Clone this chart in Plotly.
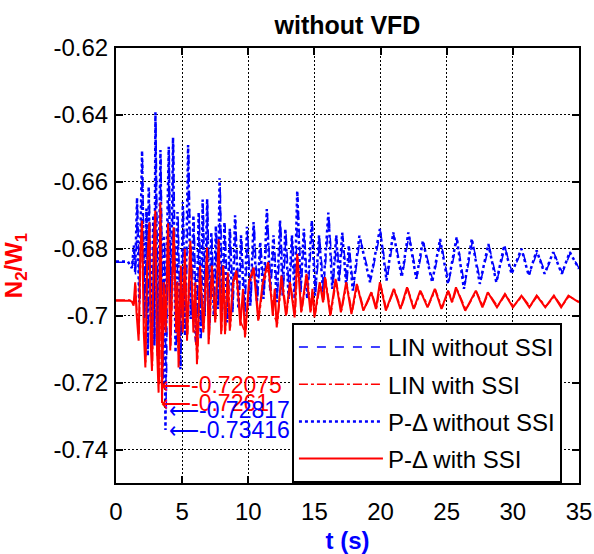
import plotly.graph_objects as go

# ---------------- data ----------------
series_names = ["LIN without SSI", "LIN with SSI", "P-\u0394 without SSI", "P-\u0394 with SSI"]

lin_nossi = [
    (0.00, -0.6840), (0.95, -0.6840), (1.22, -0.6855), (1.38, -0.6800), (1.48, -0.6880), (1.62, -0.6660), (1.80, -0.6950), (2.00, -0.6530), (2.18, -0.7000), (2.33, -0.6700),
    (2.43, -0.7100), (2.52, -0.6630), (2.68, -0.7040), (2.85, -0.6720), (2.93, -0.7080), (3.02, -0.6420), (3.20, -0.7100), (3.40, -0.6530), (3.58, -0.7180), (3.68, -0.6780),
    (3.80, -0.72817), (3.90, -0.6800), (4.03, -0.6520), (4.16, -0.7050), (4.35, -0.6490), (4.55, -0.7100), (4.70, -0.6710), (4.90, -0.7150), (5.10, -0.6680), (5.27, -0.7050),
    (5.50, -0.6510), (5.70, -0.7000), (5.90, -0.6720), (6.10, -0.7070), (6.30, -0.6700), (6.45, -0.7060), (6.60, -0.6670), (6.75, -0.6990), (6.93, -0.6665), (7.10, -0.7020),
    (7.25, -0.6760), (7.43, -0.6990), (7.60, -0.6745), (7.75, -0.6970), (7.88, -0.6610), (8.05, -0.6980), (8.25, -0.6730), (8.45, -0.7010), (8.65, -0.6750), (8.85, -0.6980),
    (9.05, -0.6715), (9.30, -0.6970), (9.50, -0.6770), (9.75, -0.6990), (9.95, -0.6745), (10.20, -0.6960), (10.45, -0.6730), (10.70, -0.6950), (10.95, -0.6790), (11.20, -0.6940),
    (11.45, -0.6695), (11.70, -0.6920), (11.95, -0.6770), (12.20, -0.6950), (12.45, -0.6725), (12.65, -0.6930), (12.85, -0.6750), (13.10, -0.6940), (13.35, -0.6770), (13.55, -0.6940),
    (13.75, -0.6645), (14.00, -0.6920), (14.25, -0.6750), (14.50, -0.6940), (14.85, -0.6725), (15.10, -0.6930), (15.40, -0.6770), (15.70, -0.6920), (16.10, -0.6700), (16.40, -0.6910),
    (16.70, -0.6770), (16.90, -0.6895), (17.15, -0.6760), (17.45, -0.6905), (17.65, -0.6800), (17.95, -0.6920), (18.45, -0.6768), (19.25, -0.6895), (20.00, -0.6748), (20.50, -0.6890),
    (21.00, -0.6758), (21.65, -0.6880), (22.15, -0.6758), (22.75, -0.6885), (23.25, -0.6782), (23.95, -0.6895), (24.55, -0.6778), (25.15, -0.6900), (25.80, -0.6772), (26.35, -0.6912),
    (26.95, -0.6776), (27.55, -0.6900), (28.20, -0.6790), (28.80, -0.6895), (29.40, -0.6795), (29.95, -0.6872), (30.70, -0.6803), (31.25, -0.6877), (31.85, -0.6808), (32.45, -0.6872),
    (33.10, -0.6812), (33.75, -0.6872), (34.35, -0.6812), (35.00, -0.6858),
]

lin_ssi = [
    (0.00, -0.6953), (1.05, -0.6953), (1.25, -0.6960), (1.36, -0.6965), (1.48, -0.6910), (1.58, -0.6985), (1.74, -0.7060), (1.88, -0.6820), (2.00, -0.6730), (2.13, -0.7040),
    (2.25, -0.7140), (2.38, -0.6860), (2.55, -0.6740), (2.65, -0.7070), (2.76, -0.7150), (2.88, -0.6820), (3.00, -0.6700), (3.15, -0.7090), (3.30, -0.72075), (3.40, -0.6680),
    (3.52, -0.7150), (3.64, -0.6910), (3.80, -0.7040), (3.97, -0.6740), (4.14, -0.7090), (4.40, -0.6750), (4.60, -0.7040), (4.78, -0.7140), (4.95, -0.6860), (5.10, -0.7040),
    (5.25, -0.6815), (5.42, -0.7060), (5.67, -0.6790), (5.90, -0.7040), (6.17, -0.7130), (6.40, -0.6860), (6.65, -0.7040), (6.92, -0.6810), (7.05, -0.7070), (7.30, -0.6860),
    (7.55, -0.7010), (7.80, -0.6785), (8.00, -0.7045), (8.14, -0.6860), (8.28, -0.7045), (8.50, -0.6880), (8.65, -0.7035), (8.90, -0.6905), (9.15, -0.6875), (9.45, -0.7020),
    (9.80, -0.7055), (10.10, -0.6905), (10.45, -0.6865), (10.80, -0.7010), (11.15, -0.6905), (11.55, -0.6850), (11.90, -0.6995), (12.20, -0.7025), (12.55, -0.6885), (12.90, -0.6995),
    (13.20, -0.6905), (13.55, -0.7000), (13.75, -0.6825), (14.05, -0.6985), (14.45, -0.6880), (14.75, -0.6985), (14.90, -0.6930), (15.05, -0.7000), (15.45, -0.6905), (15.70, -0.6960),
    (15.85, -0.6890), (16.25, -0.6995), (16.65, -0.6895), (17.05, -0.6985), (17.45, -0.6905), (17.85, -0.6990), (18.25, -0.6910), (18.75, -0.6982), (19.35, -0.6932), (19.70, -0.6978),
    (20.00, -0.6905), (20.45, -0.6982), (21.05, -0.6922), (21.55, -0.6978), (22.05, -0.6918), (22.55, -0.6978), (23.05, -0.6928), (23.60, -0.6972), (24.15, -0.6922), (24.65, -0.6978),
    (25.15, -0.6928), (25.45, -0.6958), (25.75, -0.6918), (26.45, -0.6982), (27.25, -0.6928), (27.75, -0.6972), (28.15, -0.6932), (28.85, -0.6972), (29.45, -0.6937), (30.05, -0.6972),
    (30.70, -0.6942), (31.30, -0.6972), (31.85, -0.6942), (32.50, -0.6972), (33.15, -0.6942), (33.70, -0.6972), (34.25, -0.6942), (35.00, -0.6958),
]

pd_nossi = [
    (0.00, -0.6838), (0.90, -0.6838), (1.20, -0.6858), (1.35, -0.6790), (1.45, -0.6870), (1.59, -0.6648), (1.75, -0.6960), (1.97, -0.6507), (2.15, -0.7010), (2.30, -0.6680),
    (2.40, -0.7120), (2.47, -0.6614), (2.65, -0.7060), (2.82, -0.6700), (2.90, -0.7090), (2.98, -0.6392), (3.15, -0.7120), (3.36, -0.6505), (3.55, -0.7210), (3.62, -0.6760),
    (3.74, -0.73416), (3.85, -0.6780), (3.99, -0.6495), (4.12, -0.7060), (4.31, -0.6468), (4.50, -0.7110), (4.65, -0.6690), (4.87, -0.7160), (5.05, -0.6660), (5.22, -0.7060),
    (5.45, -0.6490), (5.65, -0.7010), (5.85, -0.6700), (6.05, -0.7080), (6.25, -0.6690), (6.40, -0.7070), (6.55, -0.6653), (6.70, -0.7000), (6.89, -0.6651), (7.05, -0.7030),
    (7.20, -0.6750), (7.39, -0.7000), (7.55, -0.6732), (7.70, -0.6980), (7.83, -0.6589), (8.00, -0.6990), (8.20, -0.6720), (8.40, -0.7020), (8.60, -0.6740), (8.80, -0.6990),
    (9.00, -0.6700), (9.25, -0.6980), (9.45, -0.6760), (9.70, -0.7000), (9.90, -0.6734), (10.15, -0.6970), (10.40, -0.6720), (10.65, -0.6960), (10.90, -0.6780), (11.15, -0.6950),
    (11.40, -0.6681), (11.65, -0.6925), (11.90, -0.6760), (12.15, -0.6960), (12.40, -0.6716), (12.60, -0.6940), (12.80, -0.6740), (13.05, -0.6950), (13.30, -0.6760), (13.50, -0.6950),
    (13.70, -0.6627), (13.95, -0.6930), (14.20, -0.6740), (14.45, -0.6950), (14.80, -0.6716), (15.05, -0.6940), (15.35, -0.6760), (15.65, -0.6930), (16.05, -0.6692), (16.35, -0.6920),
    (16.65, -0.6760), (16.85, -0.6900), (17.10, -0.6752), (17.40, -0.6910), (17.60, -0.6790), (17.90, -0.6925), (18.40, -0.6761), (19.20, -0.6900), (19.95, -0.6741), (20.45, -0.6895),
    (20.96, -0.6751), (21.60, -0.6885), (22.10, -0.6751), (22.70, -0.6890), (23.20, -0.6776), (23.90, -0.6900), (24.50, -0.6771), (25.10, -0.6905), (25.75, -0.6766), (26.30, -0.6920),
    (26.90, -0.6770), (27.50, -0.6905), (28.15, -0.6786), (28.75, -0.6900), (29.35, -0.6790), (29.90, -0.6875), (30.65, -0.6800), (31.20, -0.6880), (31.80, -0.6805), (32.40, -0.6875),
    (33.05, -0.6810), (33.70, -0.6875), (34.30, -0.6810), (35.00, -0.6860),
]

pd_ssi = [
    (0.00, -0.6955), (1.00, -0.6955), (1.20, -0.6958), (1.33, -0.6970), (1.45, -0.6900), (1.55, -0.6990), (1.71, -0.7075), (1.85, -0.6800), (1.97, -0.6716), (2.10, -0.7050),
    (2.22, -0.7155), (2.35, -0.6850), (2.52, -0.6721), (2.62, -0.7080), (2.72, -0.7165), (2.85, -0.6800), (2.97, -0.6686), (3.10, -0.7100), (3.22, -0.7230), (3.35, -0.6661),
    (3.48, -0.7261), (3.60, -0.6900), (3.75, -0.7050), (3.93, -0.6724), (4.10, -0.7104), (4.36, -0.6736), (4.55, -0.7050), (4.65, -0.6900), (4.73, -0.7155), (4.90, -0.6850),
    (5.05, -0.7050), (5.20, -0.6800), (5.37, -0.7075), (5.62, -0.6776), (5.85, -0.7050), (6.00, -0.6900), (6.12, -0.7145), (6.35, -0.6850), (6.60, -0.7050), (6.88, -0.6796),
    (7.00, -0.7085), (7.25, -0.6850), (7.50, -0.7020), (7.76, -0.6771), (7.95, -0.7055), (8.10, -0.6850), (8.24, -0.7055), (8.45, -0.6870), (8.60, -0.7045), (8.85, -0.6900),
    (9.10, -0.6865), (9.40, -0.7030), (9.60, -0.6920), (9.75, -0.7065), (10.05, -0.6900), (10.40, -0.6856), (10.75, -0.7015), (11.10, -0.6900), (11.50, -0.6840), (11.85, -0.7000),
    (12.00, -0.6920), (12.15, -0.7035), (12.50, -0.6880), (12.85, -0.7000), (13.15, -0.6900), (13.50, -0.7005), (13.70, -0.6815), (14.00, -0.6990), (14.40, -0.6875), (14.70, -0.6990),
    (14.85, -0.6920), (15.00, -0.7005), (15.40, -0.6900), (15.65, -0.6960), (15.80, -0.6885), (16.20, -0.7000), (16.60, -0.6890), (17.00, -0.6990), (17.40, -0.6900), (17.80, -0.6995),
    (18.20, -0.6905), (18.70, -0.6985), (19.30, -0.6930), (19.65, -0.6980), (19.95, -0.6900), (20.40, -0.6985), (21.00, -0.6920), (21.50, -0.6980), (22.00, -0.6915), (22.50, -0.6980),
    (23.00, -0.6925), (23.55, -0.6975), (24.10, -0.6920), (24.60, -0.6980), (25.10, -0.6925), (25.40, -0.6960), (25.70, -0.6915), (26.40, -0.6985), (27.20, -0.6925), (27.70, -0.6975),
    (28.10, -0.6930), (28.80, -0.6975), (29.40, -0.6935), (30.00, -0.6975), (30.65, -0.6940), (31.25, -0.6975), (31.80, -0.6940), (32.45, -0.6975), (33.10, -0.6940), (33.65, -0.6975),
    (34.20, -0.6940), (35.00, -0.6960),
]

# annotated minima (label position)
ann_text = ["-0.72075", "-0.7261", "-0.72817", "-0.73416"]
ann_t = [3.25, 3.25, 3.85, 3.85]
ann_v = [-0.72075, -0.7261, -0.72817, -0.73416]
ann_color = ["red", "red", "blue", "blue"]

x_ticks = [0, 5, 10, 15, 20, 25, 30, 35]
y_ticks = [-0.62, -0.64, -0.66, -0.68, -0.70, -0.72, -0.74]
y_tick_labels = ["-0.62", "-0.64", "-0.66", "-0.68", "-0.7", "-0.72", "-0.74"]

# ---------------- figure ----------------
FONT = "Arial, Liberation Sans, sans-serif"
styles = [
    dict(color="blue", dash="dash", width=1.5),
    dict(color="red", dash="dashdot", width=1.5),
    dict(color="blue", dash="dot", width=2.5),
    dict(color="red", dash="solid", width=2),
]
data_sets = [lin_nossi, lin_ssi, pd_nossi, pd_ssi]

fig = go.Figure()
for i, (name, pts, st) in enumerate(zip(series_names, data_sets, styles)):
    fig.add_trace(go.Scatter(
        x=[p[0] for p in pts], y=[p[1] for p in pts], mode="lines", name=name,
        line=st, legendgroup=f"g{i}",
    ))

for txt, t, v, c in zip(ann_text, ann_t, ann_v, ann_color):
    fig.add_annotation(x=t, y=v, text="<span style='font-size:21px'>\u27f5</span>" + txt,
                       showarrow=False, xanchor="left", yanchor="middle",
                       font=dict(size=23, color=c, family=FONT))

axis_common = dict(
    showline=True, linecolor="black", linewidth=2, mirror="ticks",
    ticks="inside", ticklen=7, tickcolor="black", tickwidth=1.5,
    showgrid=True, gridcolor="black", gridwidth=1.2, griddash="2px,2px",
    zeroline=False, automargin=False, tickfont=dict(size=24, color="black", family=FONT),
)

fig.update_xaxes(range=[0, 35], tickvals=x_ticks, ticktext=[str(v) for v in x_ticks],
                 ticklabelstandoff=6,
                 title=dict(text="<b>t (s)</b>", font=dict(size=24, color="blue", family=FONT), standoff=12),
                 **axis_common)
fig.update_yaxes(range=[-0.75, -0.62], tickvals=y_ticks, ticktext=y_tick_labels,
                 ticklabelstandoff=1,
                 title=dict(text="<b>N<sub>2</sub>/W<sub>1</sub></b>", font=dict(size=24, color="red", family=FONT), standoff=31),
                 **axis_common)

fig.update_layout(
    width=594, height=554,
    margin=dict(l=116, r=15, t=48, b=71),
    plot_bgcolor="white", paper_bgcolor="white",
    font=dict(family=FONT, size=24, color="black"),
    title=dict(text="<b>without VFD</b>", x=0.5, xref="paper", xanchor="center",
               y=1 - 25 / 554, yanchor="middle", font=dict(size=25, color="black", family=FONT)),
    legend=dict(x=0.380, y=0.368, xanchor="left", yanchor="top",
                bgcolor="white", bordercolor="black", borderwidth=2,
                font=dict(size=24, color="black", family=FONT), traceorder="grouped",
                tracegroupgap=3, itemwidth=84),
    showlegend=True,
)

# remove the default page margin so the figure fills the 594x554 window exactly
fig.write_html("out.html", config={"displayModeBar": False},
               post_script="document.body.style.margin='0';document.body.style.overflow='hidden';")
